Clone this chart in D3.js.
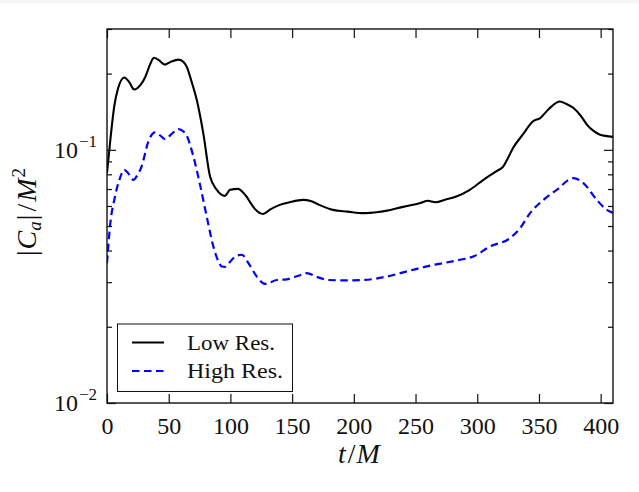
<!DOCTYPE html>
<meta charset="utf-8">
<head>
  <title>|C_a|/M^2 vs t/M</title>
  <script src="https://d3js.org/d3.v7.min.js"></script>
  <style>
    body { margin: 0; background: #fff; }
    text { font-family: "Liberation Serif", "DejaVu Serif", serif; fill: #111; }
    .frame { fill: none; stroke: #111; stroke-width: 1.4px; }
    .tick line { stroke: #111; stroke-width: 1.2px; }
  </style>
</head>
<body>
<svg width="639" height="492"></svg>
<script>
// Low resolution run (solid black)
var lowT = [0, 3, 6, 9, 14, 18, 22, 27, 31, 35, 38, 42, 47, 52, 58, 62, 64.6, 68.5, 72.7, 78,
  83.5, 89, 95.6, 99.7, 106.4, 110, 113, 117, 120, 126.6, 132, 140, 148, 159, 165, 172, 183,
  195, 208, 220, 227, 240, 254, 260, 266, 275, 283, 294, 305, 315, 321, 325, 329, 337, 345,
  351, 358, 367, 372, 378, 384, 389, 394, 399.5, 404, 410];
var lowV = [0.081, 0.113, 0.150, 0.175, 0.193, 0.185, 0.173, 0.180, 0.194, 0.218, 0.231, 0.226,
  0.217, 0.223, 0.227, 0.222, 0.2128, 0.186, 0.1576, 0.1164, 0.0784, 0.0695, 0.0658, 0.0695,
  0.0701, 0.068, 0.0654, 0.061, 0.0583, 0.0558, 0.058, 0.0606, 0.0621, 0.0634, 0.0628, 0.0606,
  0.0579, 0.057, 0.0562, 0.0568, 0.0575, 0.0595, 0.0616, 0.0629, 0.0621, 0.0638, 0.0654,
  0.0695, 0.0761, 0.082, 0.0859, 0.093, 0.1016, 0.115, 0.1294, 0.1335, 0.145, 0.1552, 0.152,
  0.1462, 0.136, 0.1255, 0.119, 0.1146, 0.1135, 0.1125];

// High resolution run (dashed blue)
var highT = [0, 2.4, 6.5, 10.5, 13.8, 17, 21.3, 25, 28, 33.5, 38.9, 43, 47, 52, 57.8, 61, 64.6,
  70, 75.4, 80.8, 86.2, 90, 93, 95.7, 99, 102.4, 106, 109.2, 114.6, 121.4, 128, 137.5, 145.6,
  155, 161.8, 170, 179.3, 195, 207.7, 226.6, 245.5, 264.4, 272.5, 286, 296.8, 310.4, 326.6,
  334.7, 342.8, 353.6, 364.4, 377.9, 386, 396.9, 405, 410];
var highV = [0.0357, 0.0497, 0.0654, 0.0773, 0.0834, 0.081, 0.0761, 0.080, 0.0859, 0.1078,
  0.1171, 0.114, 0.1102, 0.115, 0.1207, 0.119, 0.1136, 0.0941, 0.0727, 0.0545, 0.0415, 0.0365,
  0.0346, 0.0345, 0.0358, 0.0373, 0.0383, 0.0385, 0.0357, 0.03157, 0.02955, 0.0306, 0.0308,
  0.0318, 0.03256, 0.0315, 0.0306, 0.0305, 0.0306, 0.03157, 0.03334, 0.0351, 0.0357, 0.0368,
  0.0379, 0.0415, 0.0448, 0.049, 0.0562, 0.0634, 0.0695, 0.0773, 0.0739, 0.0634, 0.0579,
  0.0563];

var xTicks = [0, 50, 100, 150, 200, 250, 300, 350, 400];
var yMajor = [0.01, 0.1];
var yMinor = [0.02, 0.03, 0.04, 0.05, 0.06, 0.07, 0.08, 0.09, 0.2, 0.3];
var legendLabels = ["Low Res.", "High Res."];

var svg = d3.select("svg");
var pLeft = 107, pRight = 613, pTop = 29, pBottom = 403;

svg.append("rect").attr("x", 0).attr("y", 0).attr("width", 639).attr("height", 4)
  .attr("fill", "#f6f6f6");

var x = d3.scaleLinear().domain([0, 410]).range([pLeft, pRight]);
var y = d3.scaleLog().domain([0.01, 0.3]).range([pBottom, pTop]);

var low = lowT.map(function(t, i) { return [t, lowV[i]]; });
var high = highT.map(function(t, i) { return [t, highV[i]]; });

var line = d3.line()
  .x(function(d) { return x(d[0]); })
  .y(function(d) { return y(d[1]); })
  .curve(d3.curveMonotoneX);

var plot = svg.append("g");
plot.append("clipPath").attr("id", "clip").append("rect")
  .attr("x", pLeft).attr("y", pTop).attr("width", pRight - pLeft).attr("height", pBottom - pTop);

plot.append("path").datum(low)
  .attr("clip-path", "url(#clip)")
  .attr("d", line).attr("fill", "none")
  .attr("stroke", "#000").attr("stroke-width", 2.1);

plot.append("path").datum(high)
  .attr("clip-path", "url(#clip)")
  .attr("d", line).attr("fill", "none")
  .attr("stroke", "#0000ff").attr("stroke-width", 2.2)
  .attr("stroke-dasharray", "7.5,4.5");

// ticks (inward, all four sides)
var ax = d3.axisBottom(x).tickValues(xTicks).tickSizeInner(-9).tickSizeOuter(0).tickPadding(14);
svg.append("g").attr("transform", "translate(0," + pBottom + ")").call(ax)
  .call(function(g) { g.select(".domain").remove(); })
  .selectAll("text").attr("font-size", 24).attr("fill", "#111")
  .attr("font-family", "Liberation Serif");

svg.append("g").attr("transform", "translate(0," + pTop + ")")
  .call(d3.axisTop(x).tickValues(xTicks).tickSizeInner(-9).tickSizeOuter(0).tickFormat(""))
  .call(function(g) { g.select(".domain").remove(); });

[[d3.axisLeft, pLeft], [d3.axisRight, pRight]].forEach(function(s) {
  svg.append("g").attr("transform", "translate(" + s[1] + ",0)")
    .call(s[0](y).tickValues(yMajor).tickSizeInner(-9).tickSizeOuter(0).tickFormat(""))
    .call(function(g) { g.select(".domain").remove(); });
  svg.append("g").attr("transform", "translate(" + s[1] + ",0)")
    .call(s[0](y).tickValues(yMinor).tickSizeInner(-5).tickSizeOuter(0).tickFormat(""))
    .call(function(g) { g.select(".domain").remove(); });
});

// y tick labels 10^-1, 10^-2
yMajor.forEach(function(v) {
  var e = Math.round(Math.log10(v));
  var t = svg.append("text").attr("x", 97).attr("y", y(v) + 8)
    .attr("text-anchor", "end").attr("font-size", 24);
  t.append("tspan").text("10");
  t.append("tspan").attr("dy", -11).attr("dx", 1).attr("font-size", 17).text("\u2212" + (-e));
});

svg.append("rect").attr("class", "frame")
  .attr("x", pLeft).attr("y", pTop).attr("width", pRight - pLeft).attr("height", pBottom - pTop);

// axis titles
var xl = svg.append("text").attr("x", 359).attr("y", 463).attr("text-anchor", "middle")
  .attr("font-size", 28).attr("font-style", "italic");
xl.append("tspan").text("t");
xl.append("tspan").attr("font-style", "normal").attr("dx", 2).text("/");
xl.append("tspan").attr("dx", 1).text("M");

var yl = svg.append("text").attr("transform", "translate(36,212) rotate(-90)")
  .attr("text-anchor", "middle").attr("font-size", 28);
yl.append("tspan").text("|");
yl.append("tspan").attr("font-style", "italic").attr("dx", 1).text("C");
yl.append("tspan").attr("font-style", "italic").attr("font-size", 19).attr("dy", 5).text("a");
yl.append("tspan").attr("dy", -5).attr("dx", 1).text("|");
yl.append("tspan").attr("dx", 3).text("/");
yl.append("tspan").attr("font-style", "italic").attr("dx", 2).text("M");
yl.append("tspan").attr("font-size", 19).attr("dy", -11).attr("dx", 1).text("2");

// legend
var lg = svg.append("g");
lg.append("rect").attr("x", 117.5).attr("y", 324).attr("width", 175).attr("height", 67.5)
  .attr("fill", "#fff").attr("stroke", "#111").attr("stroke-width", 1);
var legStyles = [{ color: "#000", dash: null }, { color: "#0000ff", dash: "7.5,4.5" }];
legendLabels.forEach(function(lab, i) {
  var yy = 342.5 + i * 28.5;
  lg.append("line").attr("x1", 132).attr("x2", 164).attr("y1", yy).attr("y2", yy)
    .attr("stroke", legStyles[i].color).attr("stroke-width", i ? 2.2 : 2)
    .attr("stroke-dasharray", legStyles[i].dash);
  lg.append("text").attr("x", 187).attr("y", yy + 7).attr("font-size", 20)
    .attr("textLength", i ? 96 : 88).attr("lengthAdjust", "spacingAndGlyphs").text(lab);
});
</script>
</body>
